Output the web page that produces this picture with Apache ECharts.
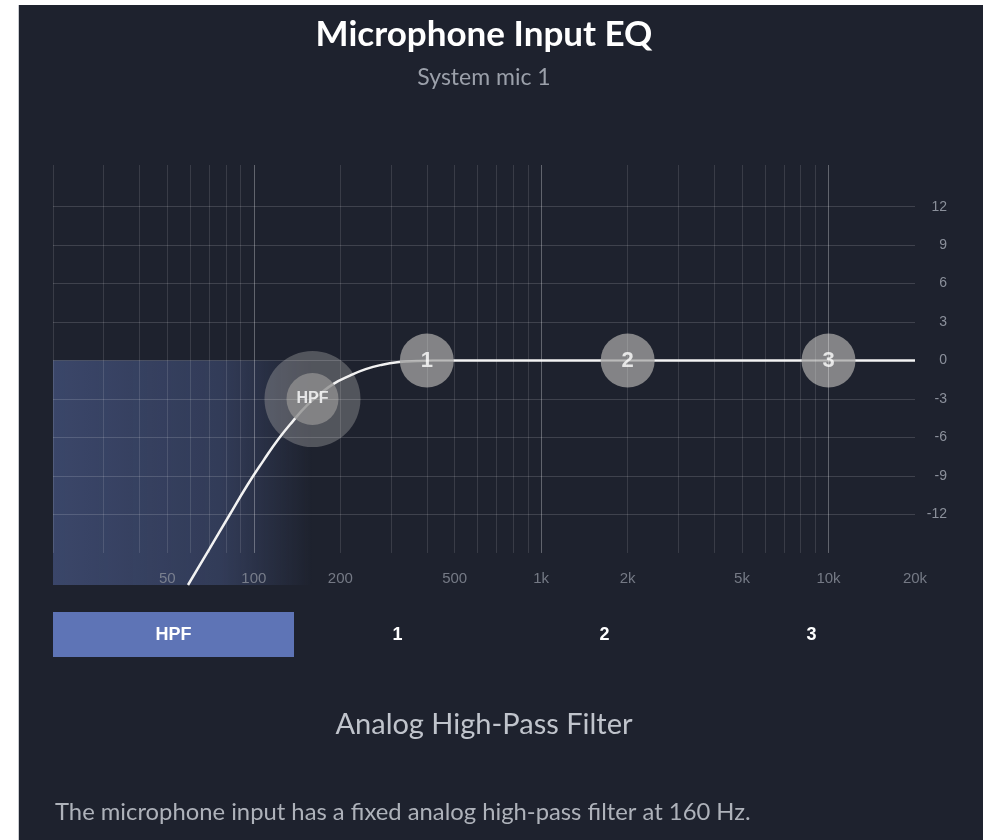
<!DOCTYPE html>
<html>
<head>
<meta charset="utf-8">
<script src="https://cdn.jsdelivr.net/npm/echarts@6/dist/echarts.min.js"></script>
<style>
  html, body { margin: 0; padding: 0; background: #ffffff; }
  #panel { position: absolute; left: 18px; top: 5px; width: 965px; height: 835px; background: #1e222e; border-left: 1px solid #c9cbd0; box-sizing: border-box; }
  #main { position: absolute; left: 0; top: 0; width: 987px; height: 840px; }
</style>
</head>
<body>
<div id="panel"></div>
<div id="main"></div>
<script>
// grid lines of the frequency plot
const freqGrid = [20, 30, 40, 50, 60, 70, 80, 90, 100, 200, 300, 400, 500, 600, 700, 800, 900,
  1000, 2000, 3000, 4000, 5000, 6000, 7000, 8000, 9000, 10000];
const majorFreqs = [100, 1000, 10000];
const dbTicks = [12, 9, 6, 3, 0, -3, -6, -9, -12];
const freqLabelValues = [50, 100, 200, 500, 1000, 2000, 5000, 10000, 20000];
const freqLabelNames = ['50', '100', '200', '500', '1k', '2k', '5k', '10k', '20k'];

// response curve (Hz, dB)
const curveFreq = [59, 70, 82, 95, 108, 122, 137, 153, 170, 190, 215, 245, 280, 320, 370, 420, 500, 1000, 2000, 5000, 10000, 20000];
const curveGain = [-17.5, -14.7, -12.1, -9.7, -7.8, -6.1, -4.7, -3.5, -2.6, -1.8, -1.2, -0.67, -0.32, -0.12, -0.03, 0, 0, 0, 0, 0, 0, 0];

// filter nodes
const hpfFreq = 160;
const hpfGain = -3;
const bandNames = ['1', '2', '3'];
const bandFreq = [400, 2000, 10000];
const bandGain = [0, 0, 0];

const tabNames = ['HPF', '1', '2', '3'];

const labelFont = '"Liberation Sans", Arial, sans-serif';
const textFont = 'Lato, "Noto Sans", sans-serif';

const chart = echarts.init(document.getElementById('main'));

// lignes verticales
const vLines = freqGrid.map(f => {
  const major = majorFreqs.includes(f);
  return [
    { coord: [f, -15], lineStyle: { color: major ? 'rgba(255,255,255,0.30)' : 'rgba(255,255,255,0.12)', width: 1, type: 'solid' } },
    { coord: [f, 15.25] }
  ];
});

// lignes horizontales avec etiquettes a droite
const hLines = dbTicks.map(v => [
  { coord: [20, v], value: v },
  { coord: [20000, v] }
]);

const curveData = curveFreq.map((f, i) => [f, curveGain[i]]);
const bandData = bandFreq.map((f, i) => ({ value: [f, bandGain[i]], name: bandNames[i] }));
const labelData = freqLabelValues.map((f, i) => ({ value: [f, -17.0], name: freqLabelNames[i] }));

// textes de la page
const textGraphics = [
  { type: 'text', x: 484, y: 35, style: { text: 'Microphone Input EQ', fill: '#ffffff', font: 'bold 35px ' + textFont, align: 'center', verticalAlign: 'middle' } },
  { type: 'text', x: 484, y: 78, style: { text: 'System mic 1', fill: '#9ba0aa', font: '23px ' + textFont, align: 'center', verticalAlign: 'middle' } },
  { type: 'text', x: 484, y: 725, style: { text: 'Analog High-Pass Filter', fill: '#c0c4cc', font: '29px ' + textFont, align: 'center', verticalAlign: 'middle' } },
  { type: 'text', x: 55, y: 812, style: { text: 'The microphone input has a fixed analog high-pass filter at 160 Hz.', fill: '#aeb2ba', font: '23.8px ' + textFont, align: 'left', verticalAlign: 'middle' } }
];

// onglets sous le graphique
const tabX = [53, 294, 501, 708, 915];
const tabGraphics = [];
tabNames.forEach((name, i) => {
  if (i === 0) {
    tabGraphics.push({
      type: 'rect', left: tabX[0], top: 612,
      shape: { width: tabX[1] - tabX[0], height: 45 },
      style: { fill: '#5e74b6' }
    });
  }
  tabGraphics.push({
    type: 'text', x: (tabX[i] + tabX[i + 1]) / 2, y: 635,
    style: { text: name, fill: '#ffffff', font: 'bold 18px ' + labelFont, align: 'center', verticalAlign: 'middle' }
  });
});

const option = {
  backgroundColor: 'transparent',
  animation: false,
  grid: { left: 53, right: 72, top: 165, height: 420 },
  xAxis: {
    type: 'log', logBase: 10, min: 20, max: 20000,
    axisLine: { show: false }, axisTick: { show: false },
    axisLabel: { show: false }, splitLine: { show: false }, minorSplitLine: { show: false }
  },
  yAxis: {
    type: 'value', min: -17.5, max: 15.25,
    axisLine: { show: false }, axisTick: { show: false },
    axisLabel: { show: false }, splitLine: { show: false }
  },
  graphic: textGraphics.concat(tabGraphics),
  series: [
    {
      name: 'grid',
      type: 'line',
      data: [],
      z: 1,
      silent: true,
      markArea: {
        silent: true,
        itemStyle: {
          color: new echarts.graphic.LinearGradient(0, 0, 1, 0, [
            { offset: 0, color: 'rgba(90,110,170,0.48)' },
            { offset: 0.65, color: 'rgba(90,110,170,0.34)' },
            { offset: 1, color: 'rgba(90,110,170,0)' }
          ])
        },
        data: [[{ coord: [20, 0] }, { coord: [hpfFreq, -17.5] }]]
      },
      markLine: {
        silent: true,
        symbol: 'none',
        animation: false,
        label: { show: false },
        data: vLines
      }
    },
    {
      name: 'db',
      type: 'line',
      data: [],
      z: 1,
      silent: true,
      markLine: {
        silent: true,
        symbol: 'none',
        animation: false,
        lineStyle: { color: 'rgba(255,255,255,0.15)', width: 1, type: 'solid' },
        label: {
          show: true, position: 'end', distance: 32, align: 'right',
          color: '#8b909b', fontSize: 14, fontFamily: labelFont,
          formatter: p => String(p.value)
        },
        data: hLines
      }
    },
    {
      name: 'halo',
      type: 'scatter',
      data: [[hpfFreq, hpfGain]],
      symbolSize: 96,
      z: 2,
      itemStyle: { color: 'rgba(150,150,152,0.55)' }
    },
    {
      name: 'response',
      type: 'line',
      data: curveData,
      smooth: 0.5,
      showSymbol: false,
      z: 3,
      lineStyle: { color: '#f2f2f2', width: 2.5 }
    },
    {
      name: 'HPF',
      type: 'scatter',
      data: [{ value: [hpfFreq, hpfGain], name: 'HPF' }],
      symbolSize: 52,
      z: 4,
      itemStyle: { color: '#8f8f8f' },
      label: { show: true, position: 'inside', formatter: '{b}', color: '#ffffff', fontSize: 16, fontWeight: 'bold', fontFamily: labelFont }
    },
    {
      name: 'bands',
      type: 'scatter',
      data: bandData,
      symbolSize: 54,
      z: 4,
      itemStyle: { color: '#9c9c9c' },
      label: { show: true, position: 'inside', formatter: '{b}', color: '#ffffff', fontSize: 22, fontWeight: 'bold', fontFamily: labelFont }
    },
    {
      name: 'freqLabels',
      type: 'scatter',
      data: labelData,
      symbolSize: 0,
      z: 2,
      silent: true,
      itemStyle: { color: 'transparent' },
      label: { show: true, position: 'inside', formatter: '{b}', color: '#8b909b', fontSize: 15, fontFamily: labelFont }
    }
  ]
};

chart.setOption(option);
</script>
</body>
</html>
